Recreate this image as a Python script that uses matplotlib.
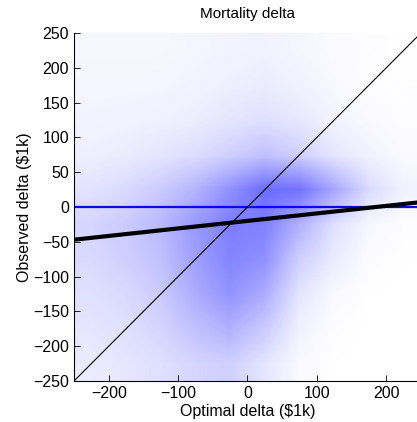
import numpy as np
from matplotlib import pyplot as plt
from matplotlib.colors import LinearSegmentedColormap

plt.rcParams['font.family'] = ['Liberation Sans', 'DejaVu Sans']

# Bin edges of the density grid (in $1k)
x_edges = [-250, -200, -150, -100, -50, 0, 50, 100, 150, 200, 250]
y_edges = [-250, -200, -150, -100, -50, 0, 50, 100, 150, 200, 250]

# Estimated point counts per 50x50 cell, rows from bottom (y=-250) to top
counts_y_m250 = [30, 40, 50, 70, 80, 40, 8, 1, 0, 0]
counts_y_m200 = [40, 50, 70, 110, 150, 90, 20, 3, 0, 0]
counts_y_m150 = [50, 60, 90, 160, 240, 160, 40, 8, 1, 0]
counts_y_m100 = [60, 80, 110, 200, 300, 250, 80, 30, 5, 1]
counts_y_m50 = [70, 90, 130, 220, 330, 320, 150, 50, 12, 3]
counts_y_0 = [45, 60, 90, 140, 250, 450, 400, 180, 60, 20]
counts_y_50 = [25, 30, 40, 55, 80, 110, 80, 40, 20, 8]
counts_y_100 = [18, 20, 22, 28, 40, 50, 35, 18, 8, 4]
counts_y_150 = [14, 14, 15, 18, 25, 30, 20, 10, 4, 2]
counts_y_200 = [12, 12, 12, 14, 18, 20, 14, 8, 3, 1]

# Many observations sit exactly at zero observed delta
zero_x = [-250, 250]
zero_y = [0, 0]

# Reference line (observed = optimal) and the least squares fit
ref_x = [-250, 250]
fit_slope = 0.108
fit_intercept = -20.0

counts = np.array([counts_y_m250, counts_y_m200, counts_y_m150, counts_y_m100,
                   counts_y_m50, counts_y_0, counts_y_50, counts_y_100,
                   counts_y_150, counts_y_200], dtype=float)
# pixel coverage of the dots
shade = 1 - np.exp(-counts / 260.0)

cmap = LinearSegmentedColormap.from_list('dots', [(1, 1, 1), (0.3, 0.3, 1.0)])

fig = plt.figure(figsize=(4.17, 4.22), dpi=100)
ax = fig.add_axes([0.1775, 0.0972, 0.832, 0.8246])

ax.imshow(shade, cmap=cmap, vmin=0, vmax=1, origin='lower',
          extent=[x_edges[0], x_edges[-1], y_edges[0], y_edges[-1]],
          interpolation='bilinear', aspect='auto', zorder=1)
ax.plot(zero_x, zero_y, color=(0.05, 0.05, 0.85), lw=1.6, zorder=2)
ax.plot(ref_x, ref_x, color='k', lw=0.8, zorder=3)
fx = np.array(ref_x, dtype=float)
ax.plot(fx, fit_slope * fx + fit_intercept, color='k', lw=3, zorder=4)

ax.set_xlim(-250, 250)
ax.set_ylim(-250, 250)
ax.set_xticks([-200, -100, 0, 100, 200])
ax.set_yticks(np.arange(-250, 251, 50))
ax.tick_params(direction='in', length=4, width=0.6, labelsize=11.5)
ax.spines['top'].set_visible(False)
ax.spines['right'].set_visible(False)
for s in ('left', 'bottom'):
    ax.spines[s].set_linewidth(0.8)

ax.set_title('Mortality delta', fontsize=11, pad=11)
ax.set_xlabel('Optimal delta ($1k)', fontsize=11.5, labelpad=2)
ax.set_ylabel('Observed delta ($1k)', fontsize=11.5, labelpad=1)

fig.savefig('out.png', dpi=100)
